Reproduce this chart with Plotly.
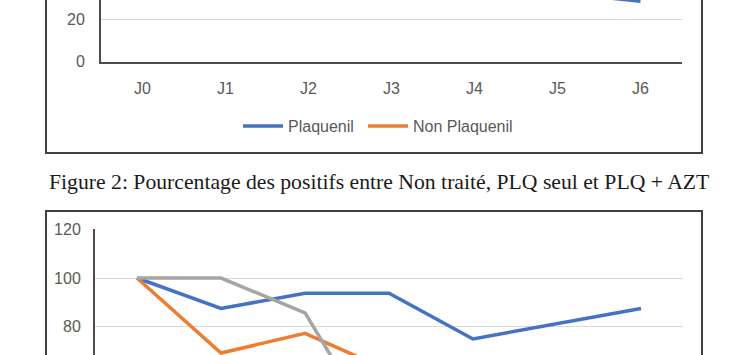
import plotly.graph_objects as go

W, H = 756, 355

# ---- data ----
days = ["J0", "J1", "J2", "J3", "J4", "J5", "J6"]

# Figure 1 (only the lower part is visible)
plaquenil = [100, 95, 90, 75, 55, 33, 28.8]
non_plaquenil = [100, 94, 94, 88, 88, 88, 87.5]

# Figure 2 (only the upper part is visible)
non_traite = [100, 87.5, 93.75, 93.75, 75, 81.25, 87.5]
plq_seul = [100, 69.2, 77.3, 62, 50, 43, 43]
plq_azt = [100, 100, 85.7, 28.6, 14.3, 0, 0]

caption = "Figure 2: Pourcentage des positifs entre Non traité, PLQ seul et PLQ + AZT"

BLUE, ORANGE, GRAY = "#4472C4", "#ED7D31", "#A5A5A5"
TICK_FONT = dict(family="Liberation Sans, Arial, sans-serif", size=16, color="#595959")
AXIS_COL = "#4d4d4d"
GRID_COL = "#d9d9d9"


def px(x):
    return x / W


def py(y):
    return 1 - y / H


fig = go.Figure()

fig.add_trace(go.Scatter(x=days, y=plaquenil, mode="lines", name="Plaquenil",
                         line=dict(color=BLUE, width=3.5), xaxis="x", yaxis="y",
                         legend="legend"))
fig.add_trace(go.Scatter(x=days, y=non_plaquenil, mode="lines", name="Non Plaquenil",
                         line=dict(color=ORANGE, width=3.5), xaxis="x", yaxis="y",
                         legend="legend2"))

fig.add_trace(go.Scatter(x=days, y=non_traite, mode="lines", name="Non traité",
                         line=dict(color=BLUE, width=3.5), xaxis="x2", yaxis="y2",
                         showlegend=False))
fig.add_trace(go.Scatter(x=days, y=plq_seul, mode="lines", name="PLQ seul",
                         line=dict(color=ORANGE, width=3.5), xaxis="x2", yaxis="y2",
                         showlegend=False))
fig.add_trace(go.Scatter(x=days, y=plq_azt, mode="lines", name="PLQ + AZT",
                         line=dict(color=GRAY, width=3.5), xaxis="x2", yaxis="y2",
                         showlegend=False))

leg_common = dict(orientation="h", xanchor="left", yanchor="middle",
                  font=TICK_FONT, bgcolor="rgba(0,0,0,0)", itemwidth=40,
                  borderwidth=0)

fig.update_layout(
    width=W, height=H,
    margin=dict(l=0, r=0, t=0, b=0, pad=0, autoexpand=False),
    paper_bgcolor="white", plot_bgcolor="white",
    xaxis=dict(domain=[px(101), px(682)], anchor="y", type="category",
               categoryorder="array", categoryarray=days, range=[-0.5, 6.5],
               showline=True, linecolor=AXIS_COL, linewidth=2, showgrid=False,
               ticks="", tickfont=TICK_FONT, ticklabelstandoff=11,
               automargin=False, fixedrange=True),
    yaxis=dict(domain=[py(61.7), 1], anchor="x", range=[0, 29.4],
               tickvals=[0, 20], ticktext=["0", "20"],
               showline=True, linecolor=AXIS_COL, linewidth=2,
               showgrid=True, gridcolor=GRID_COL, gridwidth=1, zeroline=False,
               ticks="", tickfont=TICK_FONT, ticklabelstandoff=11, automargin=False),
    xaxis2=dict(domain=[px(95), px(683)], anchor="y2", type="category",
                categoryorder="array", categoryarray=days, range=[-0.5, 6.5],
                showline=False, showgrid=False, showticklabels=False, ticks="",
                automargin=False),
    yaxis2=dict(domain=[0, py(229.3)], anchor="x2", range=[68.4, 120],
                tickvals=[80, 100, 120],
                showline=True, linecolor=AXIS_COL, linewidth=2,
                showgrid=True, gridcolor=GRID_COL, gridwidth=1, zeroline=False,
                ticks="", tickfont=TICK_FONT, ticklabelstandoff=9, automargin=False),
    legend=dict(x=px(238), y=py(126), **leg_common),
    legend2=dict(x=px(363), y=py(126), **leg_common),
    showlegend=True,
    shapes=[
        dict(type="rect", xref="paper", yref="paper",
             x0=px(46), x1=px(702), y0=py(153), y1=1.2,
             line=dict(color="#404040", width=2), fillcolor="rgba(0,0,0,0)"),
        dict(type="rect", xref="paper", yref="paper",
             x0=px(46), x1=px(702), y0=-0.2, y1=py(211),
             line=dict(color="#404040", width=2), fillcolor="rgba(0,0,0,0)"),
    ],
    annotations=[
        dict(text=caption, xref="paper", yref="paper", x=px(47), y=py(181.5),
             xanchor="left", yanchor="middle", showarrow=False,
             font=dict(family="Liberation Serif, Times New Roman, serif",
                       size=21.7, color="#1a1a1a")),
    ],
)

fig.write_html("out.html")
